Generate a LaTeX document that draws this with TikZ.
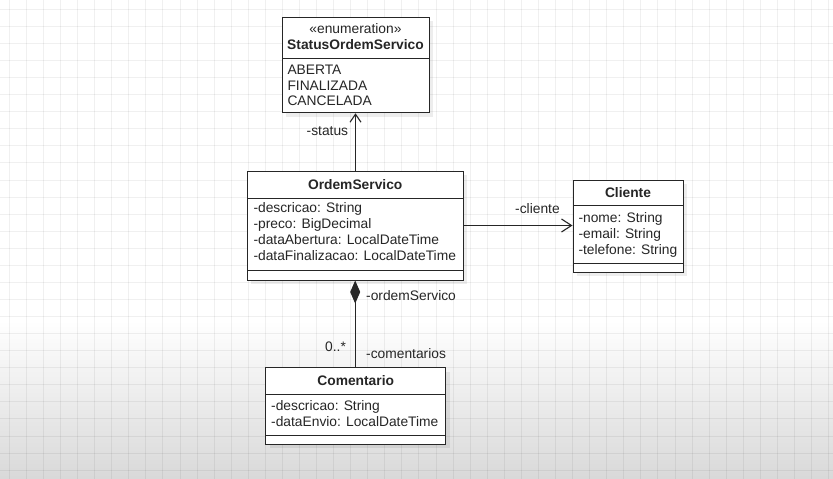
\documentclass[tikz,border=0pt]{standalone}
\usepackage{fontspec}
\setmainfont{Liberation Sans}
\usetikzlibrary{arrows.meta,shadows}
\tikzset{
  classbox/.style={draw=black!85, line width=1pt, fill=white, inner sep=0pt,
    drop shadow={shadow xshift=4pt, shadow yshift=-4pt, opacity=0.07, fill=black}},
  divider/.style={draw=black!85, line width=1pt},
  txt/.style={inner sep=0pt, anchor=base west, text=black!85, font=\fontsize{13.8}{16}\selectfont},
  ttl/.style={inner sep=0pt, anchor=base, text=black!85, font=\fontsize{13.8}{16}\selectfont\bfseries},
  stereo/.style={inner sep=0pt, anchor=base, text=black!85, font=\fontsize{13.8}{16}\selectfont},
  lbl/.style={inner sep=0pt, anchor=base west, text=black!85, font=\fontsize{13.8}{16}\selectfont},
  assoc/.style={draw=black!85, line width=1.1pt},
  gridline/.style={draw=black, opacity=0.06, line width=1pt}
}
\begin{document}
\begin{tikzpicture}[x=1pt,y=-1pt]
\useasboundingbox (0,0) rectangle (833,479);
\fill[white] (0,0) rectangle (833,479);
\shade[top color=white, bottom color=black!15] (0,320) rectangle (833,479);
\foreach \i in {0,...,48} {
  \draw[gridline] ({9.3+17.07*\i},0) -- ({9.3+17.07*\i},479);
}
\foreach \i in {0,...,27} {
  \draw[gridline] (0,{9.3+17.07*\i}) -- (833,{9.3+17.07*\i});
}

% StatusOrdemServico
\node[classbox, minimum width=147pt, minimum height=95.5pt] (status) at (355.5,65) {};
\draw[divider] (282,58.3) -- (429,58.3);
\node[stereo] (st1) at (355.5,33.5) {«enumeration»};
\node[ttl] (st2) at (355.5,49.3) {StatusOrdemServico};
\node[txt] (st3) at (287.3,74) {ABERTA};
\node[txt] (st4) at (287.3,90) {FINALIZADA};
\node[txt] (st5) at (287.3,105.8) {CANCELADA};

% OrdemServico
\node[classbox, minimum width=216pt, minimum height=109pt] (ord) at (355.2,225.5) {};
\draw[divider] (247.2,198) -- (463.2,198);
\draw[divider] (247.2,270) -- (463.2,270);
\node[ttl] (o0) at (355.2,189) {OrdemServico};
\node[txt] (o1) at (253.3,212.7) {-descricao: String};
\node[txt] (o2) at (253.3,228.6) {-preco: BigDecimal};
\node[txt] (o3) at (253.3,244.7) {-dataAbertura: LocalDateTime};
\node[txt] (o4) at (253.3,260.7) {-dataFinalizacao: LocalDateTime};

% Cliente
\node[classbox, minimum width=110pt, minimum height=92pt] (cli) at (628,226) {};
\draw[divider] (573,205.7) -- (683,205.7);
\draw[divider] (573,263) -- (683,263);
\node[ttl] (c0) at (628,197.3) {Cliente};
\node[txt] (c1) at (578.3,222.7) {-nome: String};
\node[txt] (c2) at (578.3,238.4) {-email: String};
\node[txt] (c3) at (578.3,254) {-telefone: String};

% Comentario
\node[classbox, minimum width=180pt, minimum height=76.5pt] (com) at (355.7,406) {};
\draw[divider] (265.7,394) -- (445.7,394);
\draw[divider] (265.7,435) -- (445.7,435);
\node[ttl] (m0) at (355.7,385) {Comentario};
\node[txt] (m1) at (271,410.6) {-descricao: String};
\node[txt] (m2) at (271,426) {-dataEnvio: LocalDateTime};

% connectors
\draw[assoc, -{Straight Barb[length=8pt,width=11pt,line width=1.1pt]}] (ord.north -| status.south) -- (status.south);
\draw[assoc, -{Straight Barb[length=10pt,width=13pt,line width=1.1pt]}] (ord.east) -- (cli.west |- ord.east);
\draw[assoc, {Diamond[length=23pt,width=10pt]}-] (ord.south) -- (com.north -| ord.south);

% labels
\node[lbl] (ls) at (306.5,135) {-status};
\node[lbl] (lc) at (515,213.3) {-cliente};
\node[lbl] (lo) at (366,300.7) {-ordemServico};
\node[lbl] (lm) at (325,351) {0..*};
\node[lbl] (lcm) at (366,358.3) {-comentarios};
\end{tikzpicture}
\end{document}
